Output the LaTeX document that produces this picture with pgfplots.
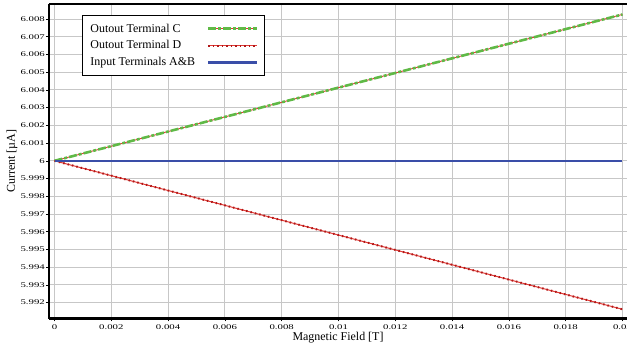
\documentclass[border=0pt]{standalone}
\usepackage{fontspec}
\setmainfont{Liberation Serif}
\newfontfamily\tickfont[FakeStretch=1.5]{Liberation Serif}
\usepackage{pgfplots}
\pgfplotsset{compat=1.18}
\definecolor{cgreen}{HTML}{5FB946}
\definecolor{cred}{HTML}{E23A35}
\definecolor{cdred}{HTML}{B01818}
\definecolor{cblue}{HTML}{3A4EA8}
\begin{document}
\begin{tikzpicture}
\begin{axis}[
  scale only axis, width=578bp, height=314.5bp,
  xmin=-0.000194, xmax=0.02016, ymin=5.9911, ymax=6.00885,
  scaled x ticks=false, scaled y ticks=false,
  axis x line=box, axis y line*=left,
  axis line style={line width=2.2bp, black},
  xtick={0,0.002,0.004,0.006,0.008,0.01,0.012,0.014,0.016,0.018,0.02},
  xticklabels={0,0.002,0.004,0.006,0.008,0.01,0.012,0.014,0.016,0.018,0.02},
  ytick={5.992,5.993,5.994,5.995,5.996,5.997,5.998,5.999,6,6.001,6.002,6.003,6.004,6.005,6.006,6.007,6.008},
  yticklabels={5.992,5.993,5.994,5.995,5.996,5.997,5.998,5.999,6,6.001,6.002,6.003,6.004,6.005,6.006,6.007,6.008},
  xtick pos=bottom,
  tick align=outside, major tick length=3bp,
  tick style={black, line width=0.6bp},
  ticklabel style={font=\tickfont\fontsize{7.2}{8}\selectfont},
  xticklabel style={inner sep=0pt, anchor=north, yshift=-3bp},
  yticklabel style={inner sep=0pt, anchor=east, xshift=-1bp},
  grid=major, grid style={color=black!22, line width=0.9bp},
  xlabel={Magnetic Field [T]}, ylabel={Current [µA]},
  label style={font=\fontsize{12}{14}\selectfont},
  xlabel style={at={(axis description cs:0.5,0)}, anchor=center, yshift=-19.5bp},
  ylabel style={at={(axis description cs:-0.064,0.5)}, anchor=center},
  legend plot pos=right,
  legend cell align=left,
  legend image code/.code={\draw[#1] (0bp,0bp) -- (49bp,0bp);},
  legend style={at={(axis description cs:0,1)}, anchor=north west, xshift=33bp, yshift=-11bp,
    draw=black, line width=0.8bp, fill=white,
    font=\fontsize{12}{14}\selectfont,
    inner xsep=6bp, inner ysep=6.5bp, row sep=3bp,
    /tikz/every odd column/.append style={column sep=10bp}},
]
\addplot[cgreen, line width=2.6bp, dash pattern=on 8bp off 2bp on 3bp off 2bp,
  preaction={draw, cred, line width=0.9bp, solid}] coordinates {(0,6) (0.02,6.00826)};
\addlegendentry{Outout Terminal C}
\addplot[cred, line width=1bp,
  postaction={draw, cdred, line width=2bp, dash pattern=on 1.5bp off 3bp}] coordinates {(0,6) (0.02,5.99162)};
\addlegendentry{Outout Terminal D}
\addplot[cblue, line width=2.4bp] coordinates {(0,6) (0.02,6)};
\addlegendentry{Input Terminals A\&B}
\end{axis}
\pgfresetboundingbox
\path ([xshift=-49bp,yshift=-32.5bp]current axis.south west) rectangle ([yshift=4bp]current axis.north east);
\end{tikzpicture}
\end{document}
